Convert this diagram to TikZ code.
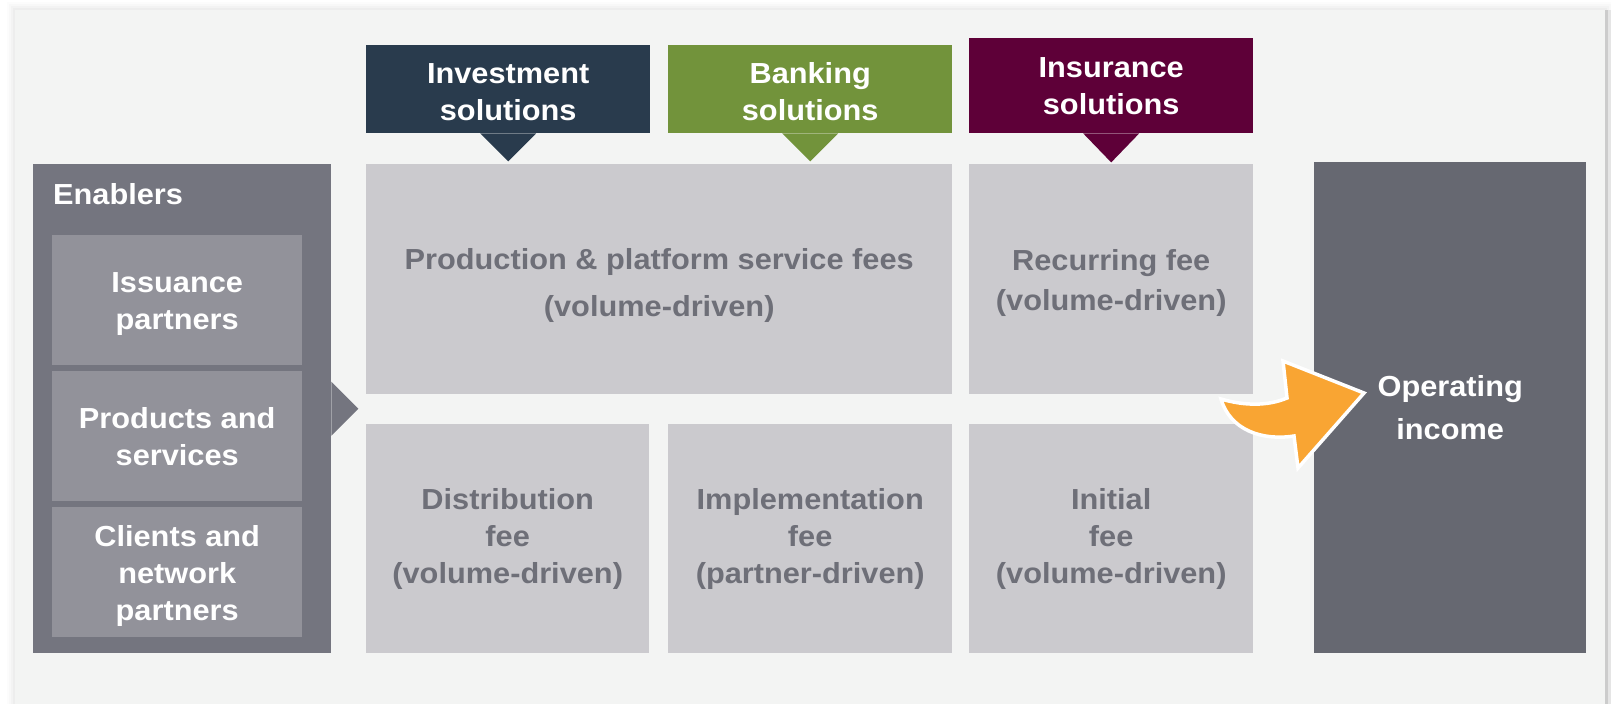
\documentclass[tikz,border=0pt]{standalone}
\usepackage{fontspec}
\setmainfont{Liberation Sans}[FakeStretch=1.06]
\definecolor{panel}{HTML}{F3F4F3}
\definecolor{enab}{HTML}{74757F}
\definecolor{enabin}{HTML}{92929A}
\definecolor{light}{HTML}{CBCACE}
\definecolor{lighttxt}{HTML}{6E6F78}
\definecolor{opinc}{HTML}{666871}
\definecolor{invcol}{HTML}{293B4D}
\definecolor{bankcol}{HTML}{72933B}
\definecolor{inscol}{HTML}{5E0038}
\definecolor{orangecol}{HTML}{F9A533}
\tikzset{
  txt/.style={font=\bfseries\fontsize{29}{37}\selectfont},
  cell/.style={rectangle, inner sep=0pt, anchor=north west, align=center, txt},
  lightbox/.style={cell, fill=light, text=lighttxt},
  enabbox/.style={cell, fill=enabin, text=white},
  headbox/.style={cell, text=white},
}
\begin{document}
\begin{tikzpicture}[x=1pt,y=-1pt]
\useasboundingbox (0,0) rectangle (1611,704);
\fill[white] (0,0) rectangle (1611,704);
% soft shadow of panel
\foreach \d/\o in {8/0.01,6/0.015,4/0.02,2/0.025}
  \fill[black,opacity=\o] (15-\d,10-\d) rectangle (1605+\d,704);
\fill[black!20] (1605,10) rectangle (1608,704);
\fill[black!10] (1608,10) rectangle (1611,704);
\fill[panel] (15,10) rectangle (1605,704);

% Enablers
\node[cell, fill=enab, minimum width=298pt, minimum height=489pt] (enab) at (33,164) {};
\fill[enab] ([yshift=27pt]enab.east) -- ([xshift=27pt]enab.east) -- ([yshift=-27pt]enab.east) -- cycle;
\node[anchor=base west, txt, text=white, inner sep=0pt] (enl) at (53,204) {Enablers};
\node[enabbox, minimum width=250pt, minimum height=130pt] (iss) at (52,235) {\rule{0pt}{28pt}Issuance\\partners};
\node[enabbox, minimum width=250pt, minimum height=130pt] (prodserv) at (52,371) {Products and\\services};
\node[enabbox, minimum width=250pt, minimum height=130pt] (cli) at (52,507) {\rule{0pt}{28pt}Clients and\\network\\partners};

% Headers
\node[headbox, fill=invcol, minimum width=284pt, minimum height=88pt] (inv) at (366,45) {\rule{0pt}{26pt}Investment\\solutions};
\fill[invcol] ([xshift=-28pt]inv.south) -- ([xshift=28pt]inv.south) -- ([yshift=-28pt]inv.south) -- cycle;
\node[headbox, fill=bankcol, minimum width=284pt, minimum height=88pt] (bank) at (668,45) {\rule{0pt}{26pt}Banking\\solutions};
\fill[bankcol] ([xshift=-28pt]bank.south) -- ([xshift=28pt]bank.south) -- ([yshift=-28pt]bank.south) -- cycle;
\node[headbox, fill=inscol, minimum width=284pt, minimum height=95pt] (ins) at (969,38) {Insurance\\solutions};
\fill[inscol] ([xshift=-28pt]ins.south) -- ([xshift=28pt]ins.south) -- ([yshift=-29pt]ins.south) -- cycle;

% Fee boxes
\node[lightbox, minimum width=586pt, minimum height=230pt] (prod) at (366,164) {\rule{0pt}{34pt}Production \& platform service fees\\[10pt](volume-driven)};
\node[lightbox, minimum width=284pt, minimum height=230pt] (rec) at (969,164) {\rule{0pt}{29pt}Recurring fee\\[3pt](volume-driven)};
\node[lightbox, minimum width=283pt, minimum height=229pt] (dist) at (366,424) {Distribution\\fee\\(volume-driven)};
\node[lightbox, minimum width=284pt, minimum height=229pt] (impl) at (668,424) {Implementation\\fee\\(partner-driven)};
\node[lightbox, minimum width=284pt, minimum height=229pt] (init) at (969,424) {Initial\\fee\\(volume-driven)};

% Operating income
\node[headbox, fill=opinc, minimum width=272pt, minimum height=491pt] (op) at (1314,162) {Operating\\[6pt]income};

% Orange arrow
\draw[fill=orangecol, draw=white, line width=3.5pt, line join=miter]
  (1221,399) .. controls (1245,406) and (1268,406) .. (1287,398)
  -- (1283,361) -- (1364,393) -- (1298,468) -- (1294,436)
  .. controls (1262,441) and (1230,430) .. cycle;
\end{tikzpicture}
\end{document}
